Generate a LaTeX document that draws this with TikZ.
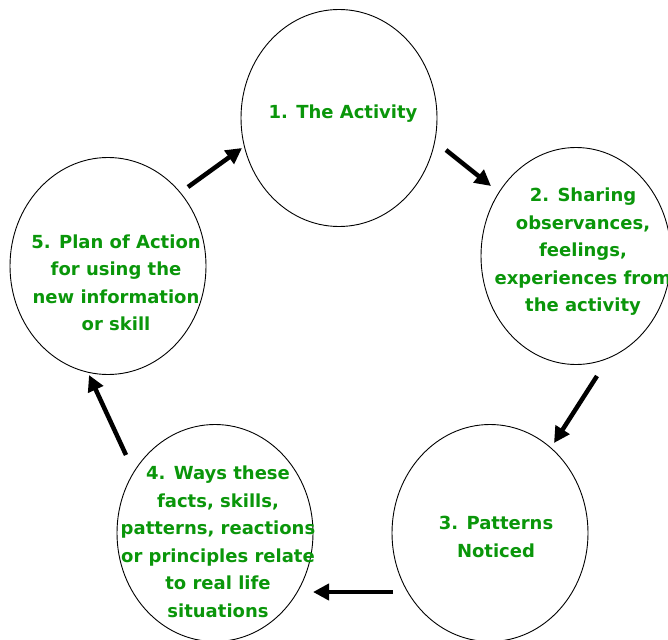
\documentclass[tikz,border=0pt]{standalone}
\usepackage{fontspec}
\setmainfont{DejaVu Sans}
\usetikzlibrary{shapes.geometric,arrows.meta}
\definecolor{txtgreen}{RGB}{10,150,10}
\tikzset{
  cyc/.style={draw=black, line width=0.9pt, ellipse, inner sep=0pt, minimum width=196pt, minimum height=217pt},
  lbl/.style={text=txtgreen, align=center, font=\fontsize{18}{27.5}\selectfont\bfseries, inner sep=0pt},
  flow/.style={line width=4.5pt, -{Triangle[length=16pt,width=16pt]}}
}
\begin{document}
\begin{tikzpicture}[x=1pt,y=-1pt]
\useasboundingbox (0,0) rectangle (668,639);
\clip (0,0) rectangle (668,639);
\node[cyc] (c1) at (339,118) {};
\node[cyc, minimum width=190pt] (c2) at (576,256) {};
\node[cyc] (c3) at (490,533) {};
\node[cyc] (c4) at (215,533) {};
\node[cyc] (c5) at (108,266) {};
\node[lbl] (t1) at (343,114) {1. The Activity};
\node[lbl] (t2) at (583,252) {2. Sharing\\observances,\\feelings,\\experiences from\\the activity};
\node[lbl] (t3) at (496,537) {3. Patterns\\Noticed};
\node[lbl] (t4) at (218,542) {4. Ways these\\facts, skills,\\patterns, reactions\\or principles relate\\to real life\\situations};
\node[lbl] (t5) at (116,283) {5. Plan of Action\\for using the\\new information\\or skill};
\coordinate (a1s) at (446,150); \coordinate (a1e) at (491,186);
\coordinate (a2s) at (597,376); \coordinate (a2e) at (554,443);
\coordinate (a3s) at (393,592); \coordinate (a3e) at (313,592);
\coordinate (a4s) at (126,455); \coordinate (a4e) at (89,375);
\coordinate (a5s) at (188,187); \coordinate (a5e) at (242,148);
\draw[flow] (a1s) -- (a1e);
\draw[flow] (a2s) -- (a2e);
\draw[flow] (a3s) -- (a3e);
\draw[flow] (a4s) -- (a4e);
\draw[flow] (a5s) -- (a5e);
\end{tikzpicture}
\end{document}
